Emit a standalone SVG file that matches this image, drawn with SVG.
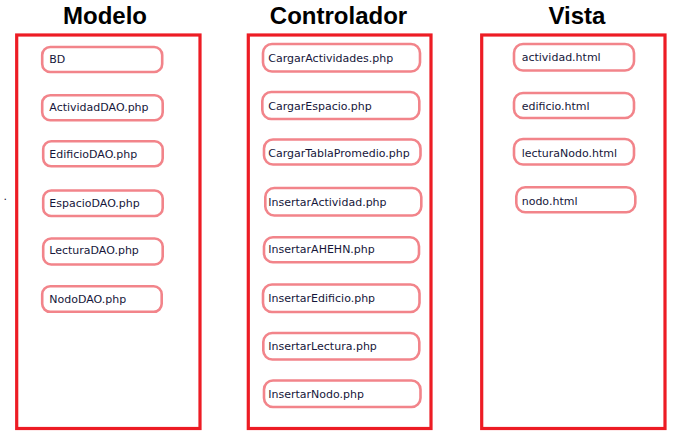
<svg xmlns="http://www.w3.org/2000/svg" width="680" height="438" viewBox="0 0 680 438">
<style>
.title{font-family:"Liberation Sans",Arial,sans-serif;font-weight:bold;font-size:24px;fill:#000;text-anchor:middle}
.panel{fill:none;stroke:#ED1C24;stroke-width:3.2}
.node rect{fill:#fff;stroke:#F2848A;stroke-width:2.6}
.node text,.lbl{font-family:"DejaVu Sans","Liberation Sans",sans-serif;font-size:11px;fill:#16163a}
</style>
<rect width="680" height="438" fill="#fff"/>
<g id="modelo">
<text class="title" x="105" y="24">Modelo</text>
<rect class="panel" x="16.7" y="35" width="183.3" height="393.5"/>
<g class="node" id="m-bd"><rect x="42.2" y="47" width="120" height="25" rx="8"/><text x="49.3" y="62.7">BD</text></g>
<g class="node" id="m-actividad"><rect x="42.2" y="95.2" width="120.5" height="25" rx="8"/><text x="49.3" y="111">ActividadDAO.php</text></g>
<g class="node" id="m-edificio"><rect x="43.2" y="141.3" width="119.5" height="25" rx="8"/><text x="49.3" y="158.3">EdificioDAO.php</text></g>
<g class="node" id="m-espacio"><rect x="43.2" y="190.5" width="119.5" height="25.5" rx="8"/><text x="49.3" y="206.7">EspacioDAO.php</text></g>
<g class="node" id="m-lectura"><rect x="43.2" y="238.5" width="119.5" height="26" rx="8"/><text x="49.3" y="254.3">LecturaDAO.php</text></g>
<g class="node" id="m-nodo"><rect x="42.2" y="286.3" width="119.5" height="25.5" rx="8"/><text x="49.3" y="302.7">NodoDAO.php</text></g>
</g>
<g id="controlador">
<text class="title" x="338.5" y="24">Controlador</text>
<rect class="panel" x="248.3" y="35" width="182.7" height="393.5"/>
<g class="node" id="c-cargaract"><rect x="263" y="44" width="157" height="27.5" rx="9"/><text x="268.3" y="62.3">CargarActividades.php</text></g>
<g class="node" id="c-cargaresp"><rect x="262.3" y="92" width="157" height="27" rx="9"/><text x="268.3" y="110">CargarEspacio.php</text></g>
<g class="node" id="c-cargartabla"><rect x="264" y="139.5" width="156.5" height="25" rx="9"/><text x="268.3" y="157.3">CargarTablaPromedio.php</text></g>
<g class="node" id="c-insact"><rect x="265.3" y="188" width="156" height="27.5" rx="9"/><text x="268.3" y="206">InsertarActividad.php</text></g>
<g class="node" id="c-insahehn"><rect x="264" y="237.3" width="155" height="25" rx="9"/><text x="268.3" y="253.3">InsertarAHEHN.php</text></g>
<g class="node" id="c-insedif"><rect x="263" y="284.5" width="156.5" height="27.5" rx="9"/><text x="268.3" y="301.7">InsertarEdificio.php</text></g>
<g class="node" id="c-inslect"><rect x="263.3" y="333" width="156" height="26.5" rx="9"/><text x="268.3" y="350">InsertarLectura.php</text></g>
<g class="node" id="c-insnodo"><rect x="264" y="380.5" width="156.5" height="26.5" rx="9"/><text x="268.3" y="398.3">InsertarNodo.php</text></g>
</g>
<g id="vista">
<text class="title" x="577" y="24">Vista</text>
<rect class="panel" x="481.7" y="35" width="183.3" height="393.5"/>
<g class="node" id="v-actividad"><rect x="514" y="44" width="120" height="26.5" rx="9"/><text x="521.7" y="61">actividad.html</text></g>
<g class="node" id="v-edificio"><rect x="514" y="93" width="120" height="25" rx="9"/><text x="521.7" y="109.5">edificio.html</text></g>
<g class="node" id="v-lectura"><rect x="514" y="139" width="120" height="25.5" rx="9"/><text x="521.7" y="157.3">lecturaNodo.html</text></g>
<g class="node" id="v-nodo"><rect x="516.3" y="187.3" width="119" height="25" rx="9"/><text x="521.7" y="205">nodo.html</text></g>
</g>
<g id="connectors"></g>
<text class="lbl" x="3.5" y="199.5">.</text>
</svg>
